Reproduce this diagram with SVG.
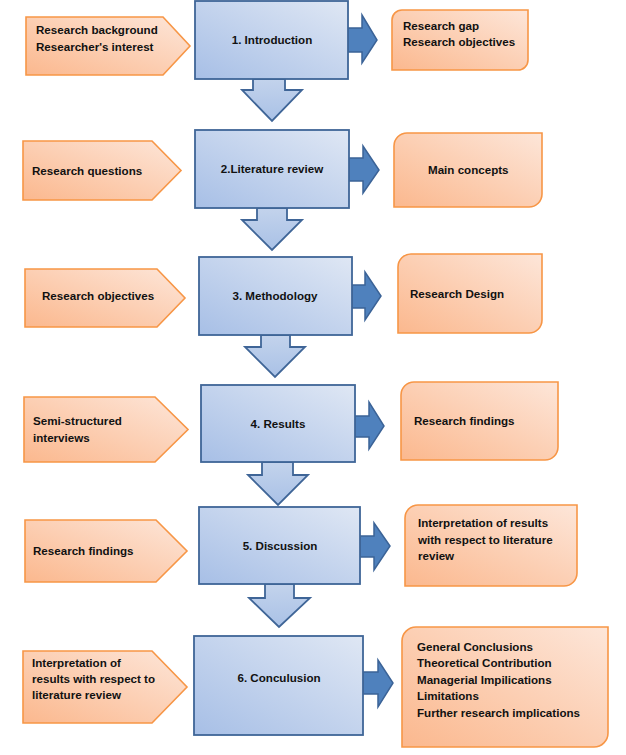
<svg xmlns="http://www.w3.org/2000/svg" width="626" height="755" viewBox="0 0 626 755">
<defs>
<linearGradient id="gBlue" x1="0" y1="1" x2="1" y2="0">
<stop offset="0" stop-color="#a7bfe6"/>
<stop offset="1" stop-color="#dfe7f4"/>
</linearGradient>
<linearGradient id="gDown" x1="0" y1="0" x2="0" y2="1">
<stop offset="0" stop-color="#c3d3ec"/>
<stop offset="1" stop-color="#a9c1e6"/>
</linearGradient>
<linearGradient id="gOrange" x1="0" y1="1" x2="1" y2="0">
<stop offset="0" stop-color="#fbb88e"/>
<stop offset="1" stop-color="#fde6d9"/>
</linearGradient>
<style>
.blue{fill:url(#gBlue);stroke:#3f6597;stroke-width:1.8}
.down{fill:url(#gDown);stroke:#3f6597;stroke-width:1.8;stroke-linejoin:miter}
.right{fill:#4f81bd;stroke:#3b6397;stroke-width:1.5}
.org{fill:url(#gOrange);stroke:#f79646;stroke-width:1.6}
text{font-family:"Liberation Sans",Arial,sans-serif;font-weight:bold;font-size:11.6px;fill:#111}
.c{text-anchor:middle}
</style>
</defs>
<rect width="626" height="755" fill="#ffffff"/>

<g id="connectors">
<path class="down" d="M253,79 V90 H242 L272,121 L302,90 H285 V79 Z"/>
<path class="down" d="M257,208 V220 H242 L272,250 L302,220 H287 V208 Z"/>
<path class="down" d="M261,335 V347 H245 L275,377 L305,347 H290 V335 Z"/>
<path class="down" d="M262,462 V475 H248 L278,505 L308,475 H293 V462 Z"/>
<path class="down" d="M265,584 V598 H249 L279,627 L310,598 H294 V584 Z"/>
<path class="right" d="M348,28 H362 V15 L377,40 L362,63 V52 H348 Z"/>
<path class="right" d="M349,158 H363 V146 L379,170 L363,193 V181 H349 Z"/>
<path class="right" d="M352,285 H365 V272 L381,296 L365,320 V308 H352 Z"/>
<path class="right" d="M355,416 H369 V402 L384,426 L369,449 V437 H355 Z"/>
<path class="right" d="M360,536 H374 V523 L390,546 L374,570 V557 H360 Z"/>
<path class="right" d="M363,672 H378 V660 L393,683 L378,707 V694 H363 Z"/>
</g>

<g id="step1">
<rect class="blue" x="195" y="1" width="153" height="78"/>
<text class="c" x="272" y="44">1. Introduction</text>
</g>
<g id="step2">
<rect class="blue" x="195" y="130" width="154" height="78"/>
<text class="c" x="272" y="173">2.Literature review</text>
</g>
<g id="step3">
<rect class="blue" x="199" y="257" width="153" height="78"/>
<text class="c" x="275" y="300">3. Methodology</text>
</g>
<g id="step4">
<rect class="blue" x="201" y="385" width="154" height="77"/>
<text class="c" x="278" y="428">4. Results</text>
</g>
<g id="step5">
<rect class="blue" x="199" y="507" width="161" height="77"/>
<text class="c" x="280" y="550">5. Discussion</text>
</g>
<g id="step6">
<rect class="blue" x="194" y="636" width="169" height="99"/>
<text class="c" x="279" y="682">6. Conculusion</text>
</g>

<g id="input1">
<polygon class="org" points="26,17 163,17 190,46 163,75 26,75"/>
<text x="36" y="34">Research background</text>
<text x="36" y="51">Researcher's interest</text>
</g>
<g id="input2">
<polygon class="org" points="23,141 152,141 181,170.5 152,200 23,200"/>
<text x="32" y="175">Research questions</text>
</g>
<g id="input3">
<polygon class="org" points="25,269 157,269 185,298 157,327 25,327"/>
<text x="42" y="300">Research objectives</text>
</g>
<g id="input4">
<polygon class="org" points="24,397 155,397 188,429.5 155,462 24,462"/>
<text x="33" y="425">Semi-structured</text>
<text x="33" y="442">interviews</text>
</g>
<g id="input5">
<polygon class="org" points="25,520 156,520 187,551 156,582 25,582"/>
<text x="33" y="555">Research findings</text>
</g>
<g id="input6">
<polygon class="org" points="23,651 152,651 187,687 152,723 23,723"/>
<text x="32" y="667">Interpretation of</text>
<text x="32" y="683">results with respect to</text>
<text x="32" y="699">literature review</text>
</g>

<g id="output1">
<path class="org" d="M402,10 H528 V60 A10,10 0 0 1 518,70 H392 V20 A10,10 0 0 1 402,10 Z"/>
<text x="403" y="30">Research gap</text>
<text x="403" y="46">Research objectives</text>
</g>
<g id="output2">
<path class="org" d="M407,133 H542 V194 A13,13 0 0 1 529,207 H394 V146 A13,13 0 0 1 407,133 Z"/>
<text x="428" y="174">Main concepts</text>
</g>
<g id="output3">
<path class="org" d="M411,254 H542 V320 A13,13 0 0 1 529,333 H398 V267 A13,13 0 0 1 411,254 Z"/>
<text x="410" y="298">Research Design</text>
</g>
<g id="output4">
<path class="org" d="M414,382 H558 V447 A13,13 0 0 1 545,460 H401 V395 A13,13 0 0 1 414,382 Z"/>
<text x="414" y="425">Research findings</text>
</g>
<g id="output5">
<path class="org" d="M418,505 H577 V573 A13,13 0 0 1 564,586 H405 V518 A13,13 0 0 1 418,505 Z"/>
<text x="418" y="527">Interpretation of results</text>
<text x="418" y="544">with respect to literature</text>
<text x="418" y="560">review</text>
</g>
<g id="output6">
<path class="org" d="M416,627 H608 V733 A14,14 0 0 1 594,747 H402 V641 A14,14 0 0 1 416,627 Z"/>
<text x="417" y="651">General Conclusions</text>
<text x="417" y="667">Theoretical Contribution</text>
<text x="417" y="684">Managerial Impilications</text>
<text x="417" y="700">Limitations</text>
<text x="417" y="717">Further research implications</text>
</g>
</svg>
